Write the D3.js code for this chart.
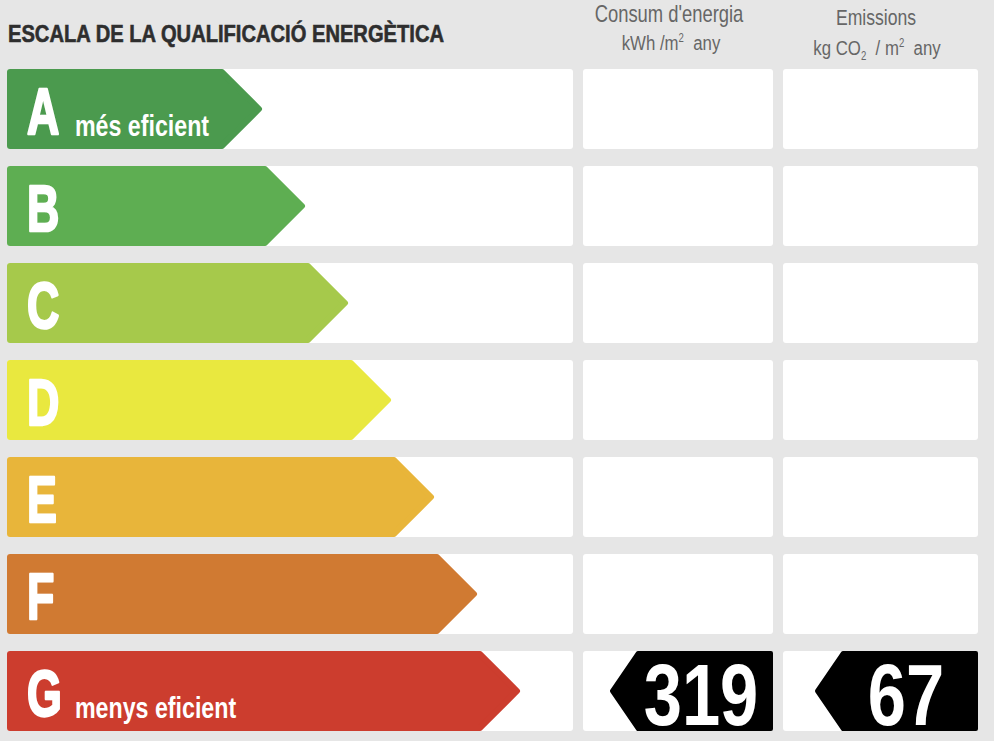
<!DOCTYPE html>
<html><head><meta charset="utf-8">
<script src="https://cdn.jsdelivr.net/npm/d3@7"></script>
<style>
html,body{margin:0;padding:0;background:#e6e6e6;}
svg{display:block;}
</style></head>
<body>
<svg id="chart" width="994" height="741"></svg>
<script>
const categories = ["A","B","C","D","E","F","G"];
const arrowLengths = [1,2,3,4,5,6,7];
const sublabels = ["més eficient","","","","","","menys eficient"];
const colors = ["#4b9a4e","#5eae52","#a6c94b","#e9e83f","#e8b53a","#d07a32","#cc3d2e"];
const rating = "G";
const consumValue = 319;
const emissionValue = 67;
const title = "ESCALA DE LA QUALIFICACIÓ ENERGÈTICA";

const W = 994, H = 741;
const svg = d3.select("#chart");
const FONT = "'Liberation Sans', Arial, Helvetica, sans-serif";

svg.append("rect").attr("width",W).attr("height",H).attr("fill","#e6e6e6");

const y = d3.scaleBand().domain(categories).range([69, 731]).paddingInner(17/97).paddingOuter(0);
const rowH = y.bandwidth();
const tipX = d3.scaleLinear().domain([1,7]).range([262,520]);
const head = 40;

function ctext(g, x, yy, sx, txt, attrs){
  const t = g.append("text").attr("transform",`translate(${x},${yy}) scale(${sx},1)`).text(txt);
  Object.entries(attrs||{}).forEach(([k,v])=>t.attr(k,v));
  return t;
}

const cols = [{x0:7,x1:573},{x0:583,x1:773},{x0:783,x1:978}];
categories.forEach(c=>{
  cols.forEach(col=>{
    svg.append("rect").attr("x",col.x0).attr("y",y(c)).attr("width",col.x1-col.x0).attr("height",rowH)
      .attr("rx",3).attr("fill","#ffffff");
  });
});

const inset = 3;
categories.forEach((c,i)=>{
  const top = y(c), bot = top+rowH, mid = top+rowH/2;
  const tip = tipX(arrowLengths[i]);
  const x0 = 7;
  const pts = [[x0+inset,top+inset],[tip-head,top+inset],[tip-inset,mid],[tip-head,bot-inset],[x0+inset,bot-inset]];
  svg.append("path").attr("d", d3.line()(pts)+"Z")
    .attr("fill",colors[i]).attr("stroke",colors[i]).attr("stroke-width",inset*2).attr("stroke-linejoin","round");
  ctext(svg, 27, top+65, 0.7, c, {"font-family":FONT,"font-weight":"bold","font-size":64,"fill":"#fff",
    "stroke":"#fff","stroke-width":2.5,"stroke-linejoin":"round"});
  if (sublabels[i]) {
    ctext(svg, 75, top+67, 0.8, sublabels[i], {"font-family":FONT,"font-weight":"bold","font-size":29,"fill":"#fff"});
  }
});

svg.append("text").attr("x",8).attr("y",42).text(title)
  .attr("font-family",FONT).attr("font-weight","bold").attr("font-size",24).attr("fill","#2e2e2e")
  .attr("stroke","#2e2e2e").attr("stroke-width",0.6)
  .attr("textLength",436).attr("lengthAdjust","spacingAndGlyphs");

const hdr = svg.append("g").attr("font-family",FONT).attr("fill","#666").attr("text-anchor","middle");
ctext(hdr, 669, 22, 0.8, "Consum d'energia", {"font-size":23});
const t1 = ctext(hdr, 671, 50, 0.8, "", {"font-size":21});
t1.append("tspan").text("kWh /m");
t1.append("tspan").attr("dy",-8).attr("font-size",12).text("2");
t1.append("tspan").attr("dy",8).attr("xml:space","preserve").text("\u00a0\u00a0any");
ctext(hdr, 876, 25, 0.8, "Emissions", {"font-size":22});
const t2 = ctext(hdr, 877, 55, 0.8, "", {"font-size":21});
t2.append("tspan").text("kg CO");
t2.append("tspan").attr("dy",5).attr("font-size",12).text("2");
t2.append("tspan").attr("dy",-5).text("\u00a0\u00a0/ m");
t2.append("tspan").attr("dy",-8).attr("font-size",12).text("2");
t2.append("tspan").attr("dy",8).text("\u00a0\u00a0any");

const vals = [{v:consumValue,col:cols[1],tip:610,tx:701},{v:emissionValue,col:cols[2],tip:815,tx:906}];
vals.forEach(d=>{
  const top = y(rating), bot = top+rowH, mid = top+rowH/2;
  const ins = 2;
  const pts = [[d.tip+ins,mid],[d.tip+28,top+ins],[d.col.x1-ins,top+ins],[d.col.x1-ins,bot-ins],[d.tip+28,bot-ins]];
  svg.append("path").attr("d", d3.line()(pts)+"Z").attr("fill","#000").attr("stroke","#000")
    .attr("stroke-width",ins*2).attr("stroke-linejoin","round");
  ctext(svg, d.tx, top+74, 0.78, d.v, {"text-anchor":"middle","font-family":FONT,"font-weight":"bold","font-size":88,"fill":"#fff"});
});
</script>
</body></html>
